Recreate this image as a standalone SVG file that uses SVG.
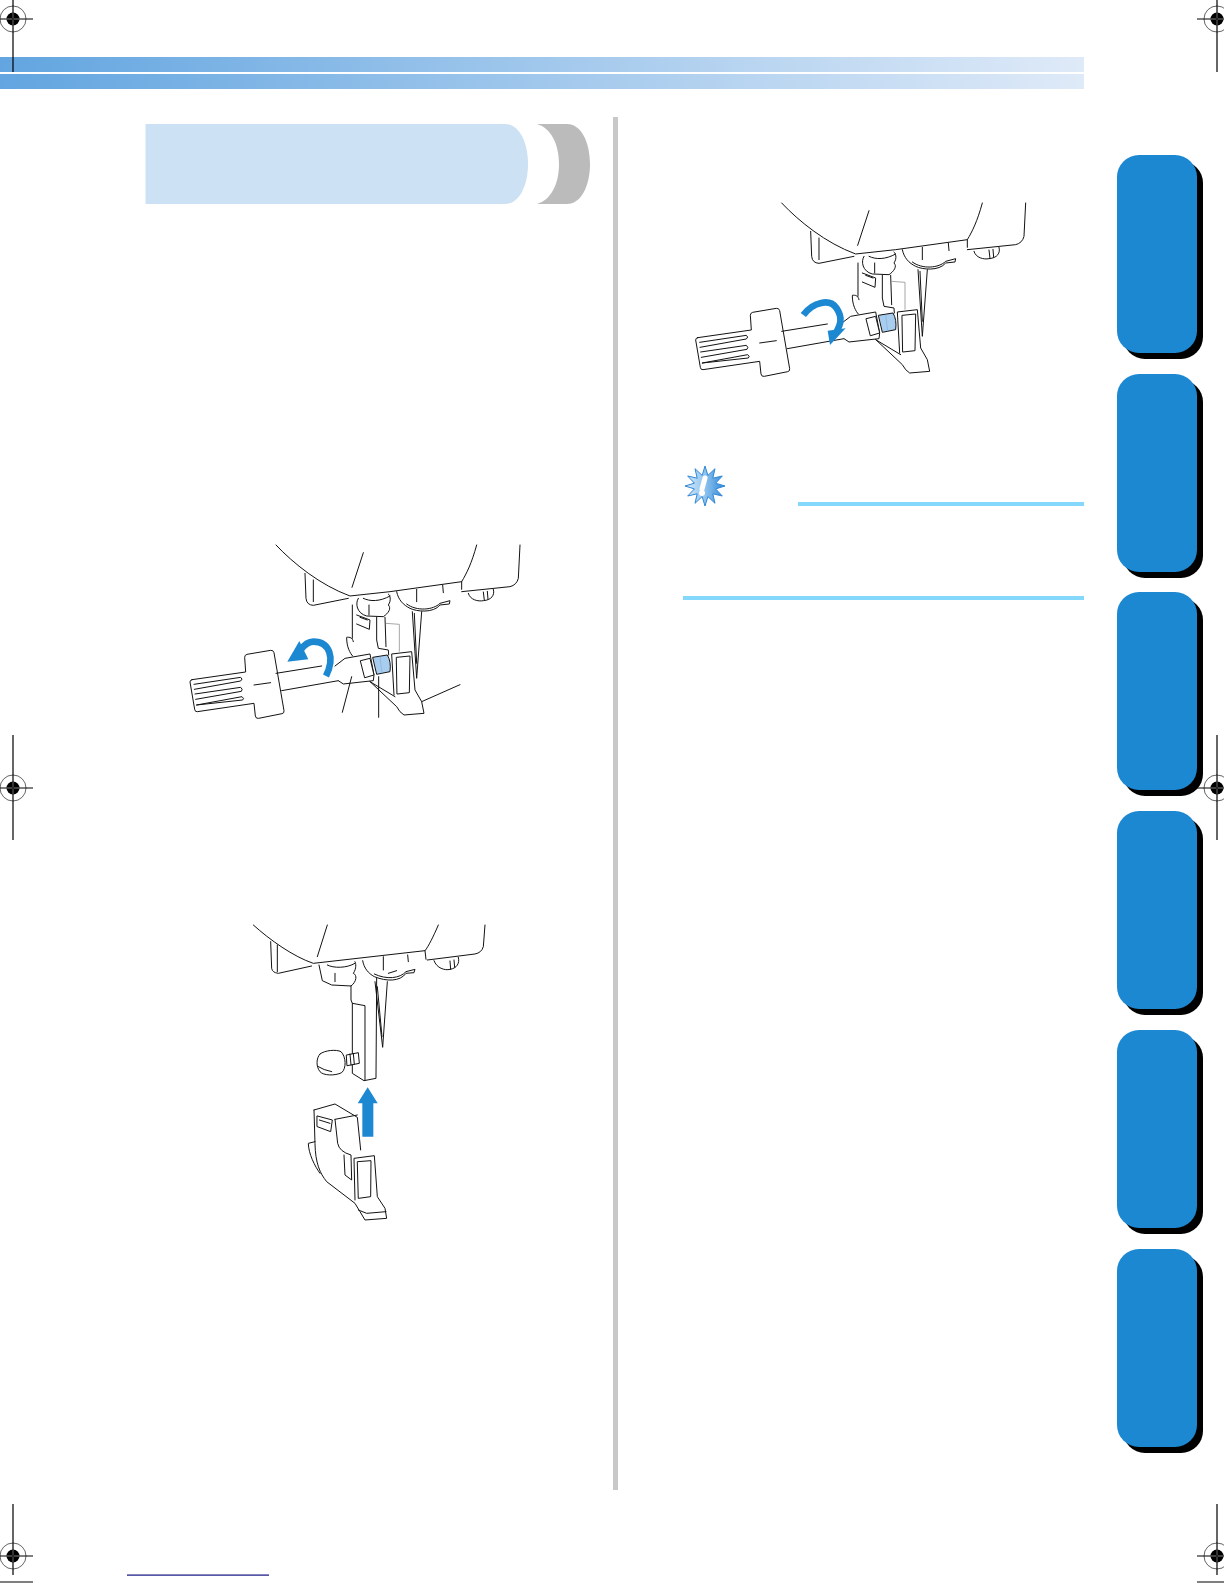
<svg xmlns="http://www.w3.org/2000/svg" xmlns:xlink="http://www.w3.org/1999/xlink" width="1224" height="1584" viewBox="0 0 1224 1584">
<style>
.l{fill:none;stroke:#111;stroke-width:3;stroke-linecap:round;stroke-linejoin:round}
.f{fill:#fff;stroke:#111;stroke-width:3;stroke-linecap:round;stroke-linejoin:round}
.g{fill:none;stroke:#999;stroke-width:2.6}
.a{fill:#1d88d2}
.s{fill:none;stroke:#1d88d2;stroke-width:20}
.tab{fill:#1d88d2}
.sh{fill:#000}
.c{fill:none;stroke:#000;stroke-width:1.2}
.c1{fill:none;stroke:#666;stroke-width:1}
</style>
<defs>
<linearGradient id="bar" x1="0" x2="1" y1="0" y2="0"><stop offset="0" stop-color="#62a5e0"/><stop offset="1" stop-color="#dfeaf8"/></linearGradient>
<linearGradient id="star" x1="0" x2="1" y1="0" y2="0"><stop offset="0" stop-color="#d8ecfb"/><stop offset=".5" stop-color="#8fc3ee"/><stop offset="1" stop-color="#2f87d8"/></linearGradient>
<g id="crop">
<circle class="c1" r="13"/>
<circle r="6.5" fill="#000"/>
<path d="M-6.5 0H6.5M0-6.5V6.5" stroke="#fff" stroke-width="1"/>
<path class="c" d="M-13 0H20"/>
</g>
<g id="tool">
<path class="l" d="M378 45C430 100 510 165 600 198L720 185L935 155"/>
<path class="l" d="M640 68L606 172"/>
<path class="l" d="M980 45C965 100 950 130 935 155L935 178"/>
<path class="l" d="M1110 45L1105 145Q1100 165 1080 170L935 185"/>
<path class="l" d="M465 130L468 205Q470 225 490 226L595 205M490 150L490 215"/>
<path class="l" d="M955 190C960 210 985 215 1000 212C1025 210 1035 195 1030 178M1000 186L1003 211M1012 184L1014 208"/>
<path class="l" d="M878 165L880 188M800 178L800 215"/>
<path class="l" d="M740 185C745 210 760 225 780 235C800 245 850 250 870 225L898 222L900 212L870 220C850 240 800 245 770 222"/>
<path class="l" d="M787 245L800 445L815 245M793 250L800 400"/>
<path class="l" d="M625 205C615 220 620 250 650 258L700 260C715 250 725 235 715 225C725 210 720 195 715 192M640 205C660 215 690 215 720 198M657 225L657 255"/>
<path class="l" d="M607 225L607 325M620 255L660 270L658 298L620 282M630 262L652 270M680 262L680 330L685 355L715 360L716 375M705 262L708 350"/>
<path class="g" d="M708 280L748 283L748 365"/>
<path class="l" d="M590 322C600 320 608 324 610 335M590 325C590 350 600 370 608 378"/>
<path class="f" d="M655 450L740 530L750 545L762 555L822 550L815 515L795 480L785 365L725 372L732 495"/>
<path class="l" d="M660 455L735 500M740 382L780 378L778 488L742 492Z"/>
<path d="M668 382L712 375Q724 395 720 425L680 433Z" fill="#a9cdee" stroke="#111" stroke-width="3"/>
<path d="M690 380L696 430" stroke="#7fb0dc" stroke-width="2" fill="none"/>
<path class="f" d="M126 449L287 426L284 382Q284 375 291 373L362 361Q370 360 372 368L402 542Q403 550 396 551L326 565Q318 567 316 558L312 520L142 545Q135 546 134 538L120 456Q120 450 126 449Z"/>
<path class="l" d="M132 463L272 442Q280 447 272 453L133 478M135 492L272 472Q280 478 274 484L137 508M140 525L276 500Q284 505 278 510L140 525M312 465L362 458M378 430L515 408M395 482L565 452"/>
<path class="f" d="M555 408L585 385L660 372L672 435L670 452L580 462L565 452"/>
<path class="f" d="M632 392L660 385L672 435L645 443Z"/>
</g>
</defs>

<g id="header">
<rect x="0" y="57" width="1084" height="15" fill="url(#bar)"/>
<rect x="0" y="74" width="1084" height="15" fill="url(#bar)"/>
</g>

<g id="crop-marks">
<use xlink:href="#crop" href="#crop" x="13" y="19"/>
<path class="c" d="M13 0V72"/>
<use xlink:href="#crop" href="#crop" transform="translate(1217 19) scale(-1 1)"/>
<path class="c" d="M1217 0V72"/>
<use xlink:href="#crop" href="#crop" x="13" y="788"/>
<path class="c" d="M13 735V840"/>
<use xlink:href="#crop" href="#crop" transform="translate(1217 788) scale(-1 1)"/>
<path class="c" d="M1217 735V840"/>
<use xlink:href="#crop" href="#crop" x="13" y="1556"/>
<path class="c" d="M13 1504V1575M0 1582H33"/>
<use xlink:href="#crop" href="#crop" transform="translate(1217 1556) scale(-1 1)"/>
<path class="c" d="M1217 1504V1575M1197 1582H1224"/>
</g>

<g id="title-band">
<path d="M537 124H567C581 124 590 142 590 164C590 186 581 204 567 204H537C551 200 559 184 559 164C559 144 551 128 537 124Z" fill="#bbb"/>
<path d="M145.500 124H505C519 124 528 142 528 164C528 186 519 204 505 204H145.500Z" fill="#cde1f5"/>
</g>

<rect id="divider" x="613" y="117" width="5" height="1373" fill="#c8c8c8"/>

<g id="tabs">
<rect class="sh" x="1123" y="161" width="80" height="198" rx="22"/><rect class="tab" x="1117" y="155" width="80" height="198" rx="22"/>
<rect class="sh" x="1123" y="380" width="80" height="198" rx="22"/><rect class="tab" x="1117" y="374" width="80" height="198" rx="22"/>
<rect class="sh" x="1123" y="598" width="80" height="198" rx="22"/><rect class="tab" x="1117" y="592" width="80" height="198" rx="22"/>
<rect class="sh" x="1123" y="817" width="80" height="198" rx="22"/><rect class="tab" x="1117" y="811" width="80" height="198" rx="22"/>
<rect class="sh" x="1123" y="1036" width="80" height="198" rx="22"/><rect class="tab" x="1117" y="1030" width="80" height="198" rx="22"/>
<rect class="sh" x="1123" y="1255" width="80" height="198" rx="22"/><rect class="tab" x="1117" y="1249" width="80" height="198" rx="22"/>
</g>

<g id="figure-loosen" transform="translate(150 530) scale(.33333)">
<use xlink:href="#tool" href="#tool"/>
<path class="l" d="M930 464L815 515M605 440L577 547M686 440L686 562"/>
<path class="s" d="M528 438C555 385 540 335 490 335C475 335 462 345 450 362"/>
<polygon class="a" points="412,395 448,333 475,388"/>
</g>

<g id="figure-remove" transform="translate(240 910) scale(.33333)">
<path class="l" d="M40 45C90 90 160 140 220 160L555 122M262 45L232 140M595 45C580 80 565 110 555 122L558 148M735 45L730 110Q725 128 705 132L562 150"/>
<path class="l" d="M92 95L95 175Q97 188 115 190L215 168M112 105L112 185"/>
<path class="l" d="M582 152C590 175 615 182 630 178C650 175 660 160 655 142M630 153L632 178M642 150L644 172"/>
<path class="l" d="M503 135L505 155M430 140L430 180"/>
<path class="l" d="M368 152C372 175 385 190 403 200C440 215 480 215 498 190L522 188L525 178L498 185C480 205 440 210 403 192M445 190L470 182"/>
<path class="l" d="M405 215L428 412L442 215M412 230L426 380"/>
<path class="l" d="M237 165L247 212L275 225L333 228C350 215 352 195 340 190C350 175 348 160 345 155M262 165C280 175 320 175 345 160M285 190L285 215"/>
<path class="l" d="M333 228L333 270L337 280L337 490L372 512L408 505L410 205M337 280L375 287L375 510"/>
<path class="f" d="M320 435L355 428L358 460L322 467Z"/>
<path class="l" d="M330 432L333 465M340 430L343 463"/>
<path class="f" d="M240 432C255 420 290 418 303 425C318 440 320 475 305 488C285 498 250 497 240 485C228 470 228 445 240 432Z"/>
<path class="l" d="M235 470Q250 480 275 485"/>
<polygon class="a" points="383,532 413,580 400,580 400,680 367,680 367,580 353,580"/>
<path class="l" d="M222 600L285 582L352 622L362 720M285 628L352 615M285 628L293 700Q298 725 333 735L335 810L315 795L312 735"/>
<path class="l" d="M222 600L225 700C226 760 240 790 260 815L345 880L360 905L375 930L440 925L435 895L412 860L403 737L342 745L345 870"/>
<path class="l" d="M225 695L205 700C205 730 225 770 240 790M355 900L380 910L438 905"/>
<path class="l" d="M232 618L277 630L272 665L232 650ZM238 630L270 640"/>
<path class="l" d="M353 755L393 752L392 860L356 865Z"/>
</g>

<g id="figure-tighten" transform="translate(680 190) scale(.33333)">
<use xlink:href="#tool" href="#tool" x="-73" y="-6"/>
<path class="s" d="M370 375C400 335 450 325 470 355C490 385 480 405 470 425"/>
<polygon class="a" points="450,465 443,422 497,415"/>
</g>

<g id="note">
<polygon points="725,486 715.6,488.9 722.3,496 712.8,493.8 715,503.3 707.9,496.6 705,506 702.2,496.6 695,503.3 697.2,493.8 687.7,496 694.4,488.9 685,486 694.4,483.2 687.7,476 697.2,478.2 695,468.7 702.2,475.4 705,466 707.9,475.4 715,468.7 712.8,478.2 722.3,476 715.6,483.2" fill="url(#star)" stroke="#2f87d8" stroke-width="1"/>
<path d="M705 478L702 489" stroke="#fff" stroke-width="5" stroke-linecap="round"/>
<circle cx="702" cy="493" r="3" fill="#fff"/>
<rect x="798" y="502" width="286" height="4" fill="#84d8fb"/>
<rect x="683" y="596" width="401" height="4" fill="#84d8fb"/>
</g>

<rect id="underline" x="127" y="1574.500" width="142" height="1.200" fill="#101080"/>
</svg>
